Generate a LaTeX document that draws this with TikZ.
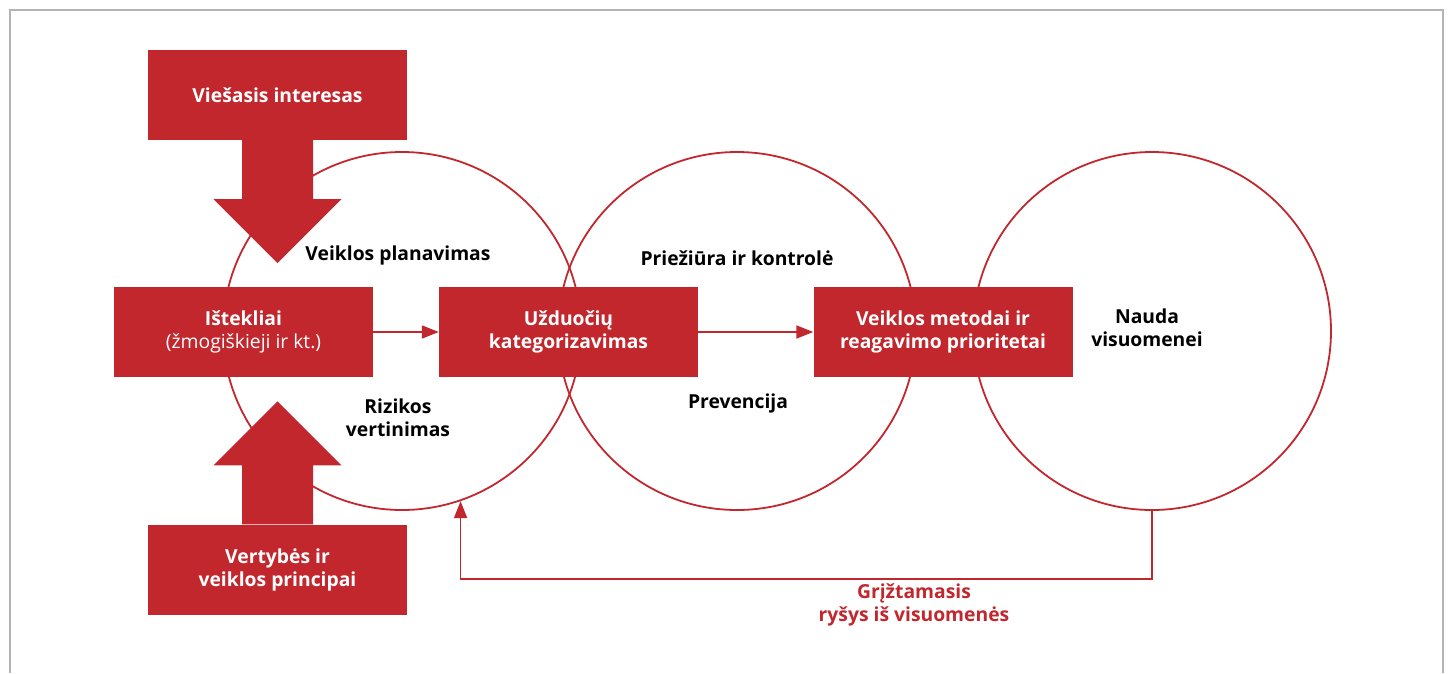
\documentclass[tikz,border=0pt]{standalone}
\usepackage{fontspec}
\setmainfont{Open Sans}
\usetikzlibrary{arrows.meta}
\definecolor{polred}{HTML}{C1272D}
\definecolor{framegray}{HTML}{B3B3B3}

\begin{document}
\begin{tikzpicture}[x=1pt,y=-1pt,
    redbox/.style={fill=polred, text=white, minimum width=259pt, minimum height=90pt,
        align=center, inner sep=0pt, font=\bfseries\fontsize{19.3}{23}\selectfont},
    ring/.style={circle, draw=polred, line width=1.8pt, minimum size=358pt, inner sep=0pt},
    lbl/.style={align=center, font=\bfseries\fontsize{19.3}{23}\selectfont},
    flow/.style={draw=polred, line width=1.8pt, -{Triangle[length=17pt,width=13pt]}}]
    \useasboundingbox (0,0) rectangle (1451,673);
    % Frame
    \draw[framegray, line width=2.2pt] (10,673) -- (10,10) -- (1443,10) -- (1443,673);
    % Circles
    \node[ring] (plan) at (402,331) {};
    \node[ring] (prieziura) at (737,331) {};
    \node[ring] (nauda) at (1152,331) {};
    % Boxes
    \node[redbox] (istekliai) at (243.5,332) {Ištekliai\\{\mdseries(žmogiškieji ir kt.)}};
    \node[redbox] (uzduotys) at (568.5,332) {Užduočių\\kategorizavimas};
    \node[redbox] (metodai) at (943,332) {Veiklos metodai ir\\reagavimo prioritetai};
    \node[redbox] (interesas) at (277.5,95) {Viešasis interesas};
    \node[redbox] (vertybes) at (277.5,569.5) {Vertybės ir\\veiklos principai};
    % Block arrows
    \fill[polred] (interesas.south) ++(-35.5,0) -- ++(0,59) -- ++(-28.5,0) -- ++(64,64)
        -- ++(64,-64) -- ++(-28.5,0) -- ++(0,-59) -- cycle;
    \fill[polred] (vertybes.north) ++(-35.5,0) -- ++(0,-59) -- ++(-28.5,0) -- ++(64,-64)
        -- ++(64,64) -- ++(-28.5,0) -- ++(0,59) -- cycle;
    % Labels
    \node[lbl] (planavimas) at (398,255) {Veiklos planavimas};
    \node[lbl] (vertinimas) at (398,418) {Rizikos\\vertinimas};
    \node[lbl] (kontrole) at (737,258) {Priežiūra ir kontrolė};
    \node[lbl] (prevencija) at (738,403) {Prevencija};
    \node[lbl] (naudatxt) at (1147,328) {Nauda\\visuomenei};
    \node[lbl, text=polred] (grizt) at (914,605) {Grįžtamasis\\ryšys iš visuomenės};
    % Connectors
    \draw[flow] (istekliai) -- (uzduotys);
    \draw[flow] (uzduotys) -- (metodai);
    \draw[flow] (nauda.south) -- ++(0,68) -| (plan.-71);
\end{tikzpicture}
\end{document}
